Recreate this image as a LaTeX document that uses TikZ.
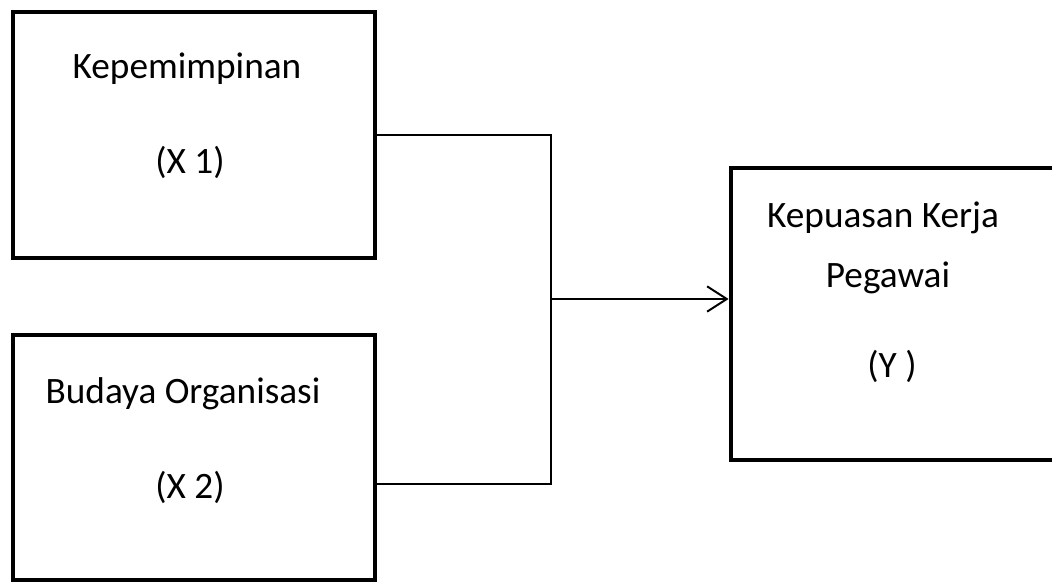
\documentclass[tikz,border=0pt]{standalone}
\usepackage{fontspec}
\setmainfont{Carlito}
\usetikzlibrary{arrows.meta}

\begin{document}
\begin{tikzpicture}[x=0.025cm,y=-0.025cm,
  box node/.style={rectangle,draw,line width=3.4pt,inner sep=0pt},
  text node/.style={anchor=base,inner sep=0pt,font=\fontsize{26.5}{32}\selectfont},
  link/.style={line width=1.4pt}]

  \useasboundingbox (0,0) rectangle (1052,585);

  \node[box node,minimum width=362*0.025cm,minimum height=246*0.025cm] (x1) at (194,135) {};
  \node[box node,minimum width=362*0.025cm,minimum height=245*0.025cm] (x2) at (194,457.5) {};
  \node[box node,minimum width=323*0.025cm,minimum height=292*0.025cm] (y) at (892.5,314) {};

  \node[text node] (x1name) at (187,78) {Kepemimpinan};
  \node[text node] (x1tag) at (190,173) {(X 1)};
  \node[text node] (x2name) at (183,403) {Budaya Organisasi};
  \node[text node] (x2tag) at (190,498) {(X 2)};
  \node[text node] (yname) at (883,227) {Kepuasan Kerja};
  \node[text node] (yname2) at (888,287) {Pegawai};
  \node[text node] (ytag) at (892,377) {(Y )};

  \coordinate (join) at (551,299);
  \coordinate (x2out) at (375,484);

  \draw[link] (x1.east) -| (join);
  \draw[link] (x2out) -| (join);
  \draw[link,-{Straight Barb[length=14pt,width=18pt,line width=1.4pt]}] (join) -- (join -| y.west);
\end{tikzpicture}
\end{document}
